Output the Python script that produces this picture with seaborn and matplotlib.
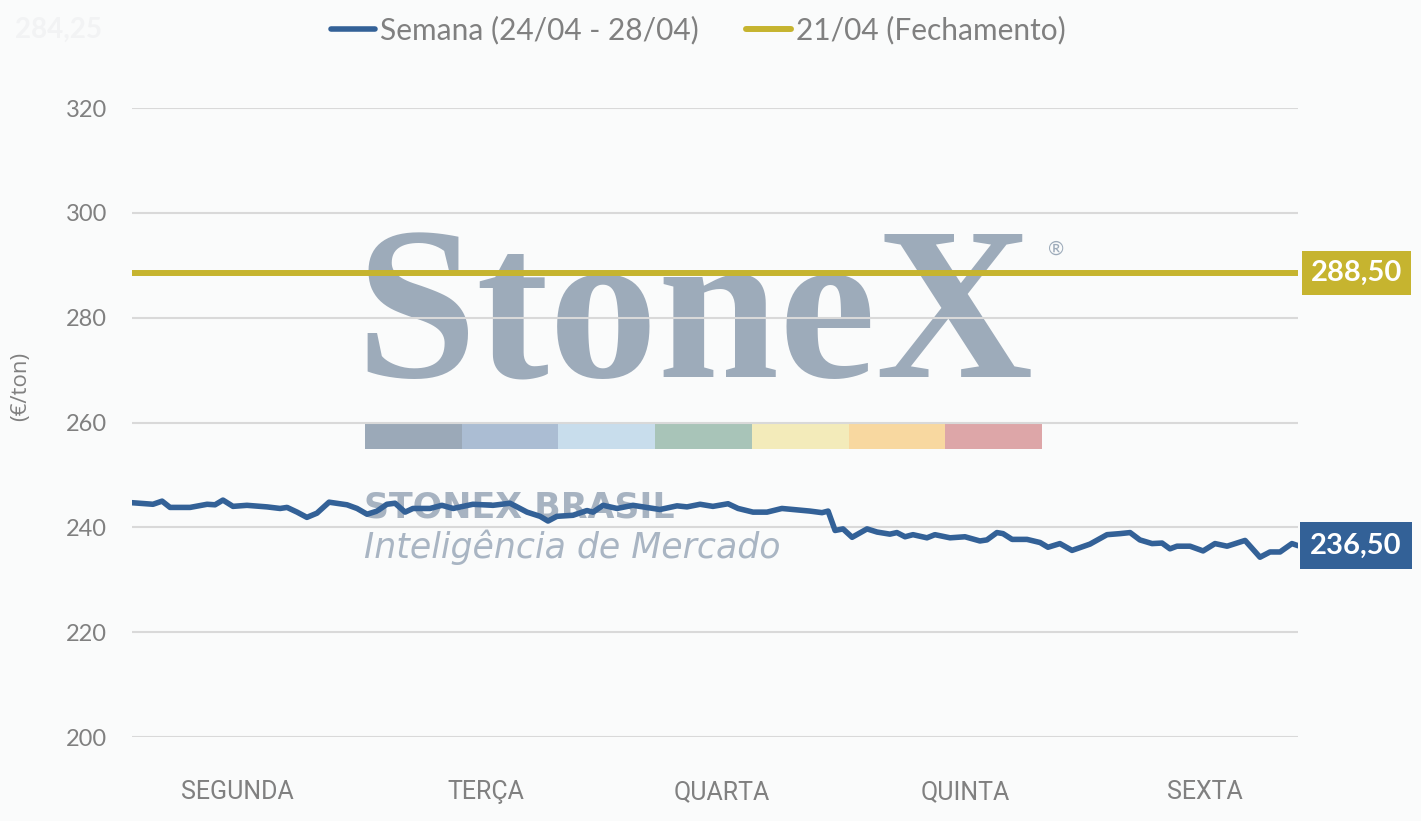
import matplotlib
matplotlib.use("Agg")
import matplotlib.pyplot as plt
from matplotlib.patches import Rectangle
import seaborn as sns
import pandas as pd

# posição no tempo (dias úteis desde a abertura de segunda) e preço (EUR/ton)
dias = [0.000, 0.090, 0.129, 0.163, 0.249, 0.322, 0.356, 0.390, 0.433, 0.493,
        0.579, 0.635, 0.665, 0.708, 0.750, 0.793, 0.845, 0.922, 0.965, 1.008,
        1.051, 1.093, 1.128, 1.171, 1.205, 1.278, 1.329, 1.377, 1.462, 1.548,
        1.621, 1.694, 1.750, 1.784, 1.822, 1.891, 1.951, 1.977, 2.020, 2.080,
        2.148, 2.264, 2.337, 2.380, 2.436, 2.491, 2.556, 2.599, 2.663, 2.723,
        2.787, 2.835, 2.907, 2.959, 2.985, 3.015, 3.049, 3.088, 3.152, 3.195,
        3.250, 3.280, 3.315, 3.349, 3.409, 3.443, 3.508, 3.572, 3.636, 3.666,
        3.709, 3.735, 3.774, 3.838, 3.894, 3.928, 3.979, 4.031, 4.108, 4.181,
        4.237, 4.280, 4.322, 4.374, 4.417, 4.451, 4.481, 4.537, 4.593, 4.644,
        4.696, 4.773, 4.837, 4.880, 4.923, 4.974, 5.000]
preco = [244.7, 244.4, 245.0, 243.8, 243.8, 244.4, 244.3, 245.2, 244.0, 244.2,
         243.9, 243.6, 243.8, 242.9, 241.9, 242.7, 244.8, 244.3, 243.6, 242.5,
         243.1, 244.4, 244.6, 242.9, 243.6, 243.6, 244.2, 243.6, 244.4, 244.2,
         244.6, 242.9, 242.1, 241.2, 242.1, 242.3, 243.2, 242.9, 244.2, 243.6,
         244.2, 243.4, 244.1, 243.9, 244.4, 244.0, 244.5, 243.6, 242.9, 242.9,
         243.6, 243.4, 243.1, 242.8, 243.1, 239.4, 239.7, 238.1, 239.7, 239.1,
         238.7, 239.0, 238.2, 238.6, 238.0, 238.6, 238.0, 238.2, 237.4, 237.6,
         239.0, 238.8, 237.7, 237.7, 237.1, 236.2, 236.9, 235.6, 236.8, 238.6,
         238.8, 239.0, 237.6, 236.9, 237.0, 235.9, 236.4, 236.4, 235.5, 236.9,
         236.4, 237.5, 234.3, 235.3, 235.3, 236.9, 236.5]
fechamento = 288.50
ultimo = 236.50

dias_semana = ["SEGUNDA", "TERÇA", "QUARTA", "QUINTA", "SEXTA"]
pos_dias = [0.450, 1.518, 2.530, 3.572, 4.601]
yticks = [200, 220, 240, 260, 280, 300, 320]

AZUL = "#336197"
OURO = "#C6B42F"
CINZA = "#808080"
FUNDO = "#FAFBFB"
MARCA = "#9DABBA"

df = pd.DataFrame({"dia": dias, "preco": preco})

sns.set_theme(style="white")
plt.rcParams["font.family"] = ["Lato", "DejaVu Sans"]

W, H = 1421, 821
fig = plt.figure(figsize=(W / 100, H / 100), dpi=100)
fig.set_facecolor(FUNDO)
ax = fig.add_axes([132 / W, 1 - 737 / H, 1166 / W, 629 / H])
ax.set_facecolor(FUNDO)


def px(x, y):
    return (x / W, 1 - y / H)


# marca d'água StoneX (atrás das linhas de grade)
ax.text(*px(355, 377), "StoneX", transform=fig.transFigure, family="Liberation Serif",
        weight="bold", fontsize=157, color=MARCA, ha="left", va="baseline", zorder=0.1)
ax.text(*px(1056, 249), "®", transform=fig.transFigure, fontsize=14, color=MARCA,
        ha="center", va="center", zorder=0.1)
cores_barra = ["#9BA9B8", "#ABBDD3", "#C8DDEC", "#A8C4B8", "#F3EBBA", "#F8D8A0", "#DDA6A8"]
larg = (1042 - 365) / len(cores_barra)
for i, c in enumerate(cores_barra):
    x0, y0 = px(365 + i * larg, 449)
    ax.add_patch(Rectangle((x0, y0), larg / W, 26 / H, transform=fig.transFigure,
                           facecolor=c, edgecolor="none", zorder=0.1))
ax.text(*px(364, 517), "STONEX BRASIL", transform=fig.transFigure, fontsize=25,
        family="DejaVu Sans", weight="bold", color="#A7B3C1",
        ha="left", va="baseline", zorder=0.1)
ax.text(*px(364, 558), "Inteligência de Mercado", transform=fig.transFigure, fontsize=25,
        family="DejaVu Sans", style="oblique", color="#A9B5C3",
        ha="left", va="baseline", zorder=0.1)

ax.text(*px(15, 38), "284,25", transform=fig.transFigure, fontsize=20, weight="bold",
        color="#F2F3F4", ha="left", va="baseline")

ax.axhline(fechamento, color=OURO, lw=4.3, zorder=3, solid_capstyle="butt",
           label="21/04 (Fechamento)")
sns.lineplot(data=df, x="dia", y="preco", ax=ax, color=AZUL, lw=4.0, zorder=4,
             solid_joinstyle="round", label="Semana (24/04 - 28/04)")

ax.set_xlim(0, 5)
ax.set_ylim(200, 320)
ax.set_yticks(yticks)
ax.set_xticks(pos_dias)
ax.set_xticklabels(dias_semana, family=["Roboto", "DejaVu Sans"], fontsize=18, color=CINZA)
ax.tick_params(axis="y", length=0, pad=18, labelsize=17, labelcolor=CINZA)
ax.tick_params(axis="x", length=0, pad=31)
ax.set_axisbelow(True)
ax.yaxis.grid(True, color="#D9D9D9", lw=1.5)
ax.xaxis.grid(False)
sns.despine(ax=ax, left=True, bottom=True)
ax.set_xlabel("")
ax.set_ylabel("")
fig.text(*px(21, 386), "(€/ton)", rotation=90, fontsize=16, color=CINZA,
         ha="center", va="center", family=["Open Sans", "DejaVu Sans"])

# rótulos de valor à direita
rotulos = [(fechamento, OURO, 13, "square,pad=0.3"),
           (ultimo, AZUL, 12, "square,pad=0.36")]
for valor, cor, desloc, caixa in rotulos:
    ax.annotate(f"{valor:.2f}".replace(".", ","), xy=(1.0, valor),
                xycoords=("axes fraction", "data"), xytext=(desloc, 0),
                textcoords="offset pixels", ha="left", va="center",
                fontsize=21, weight="bold", color="white",
                bbox=dict(boxstyle=caixa, facecolor=cor, edgecolor="none"),
                annotation_clip=False, zorder=5)

handles, labels = ax.get_legend_handles_labels()
order = [labels.index("Semana (24/04 - 28/04)"), labels.index("21/04 (Fechamento)")]
leg = ax.legend([handles[i] for i in order], [labels[i] for i in order],
                loc="center", bbox_to_anchor=px(698, 30), bbox_transform=fig.transFigure,
                ncol=2, frameon=False, fontsize=21.5, handlelength=1.5,
                handletextpad=0.15, columnspacing=1.6, labelcolor=CINZA)
for ln in leg.get_lines():
    ln.set_solid_capstyle("round")

fig.savefig("out.png", dpi=100, facecolor=FUNDO)
